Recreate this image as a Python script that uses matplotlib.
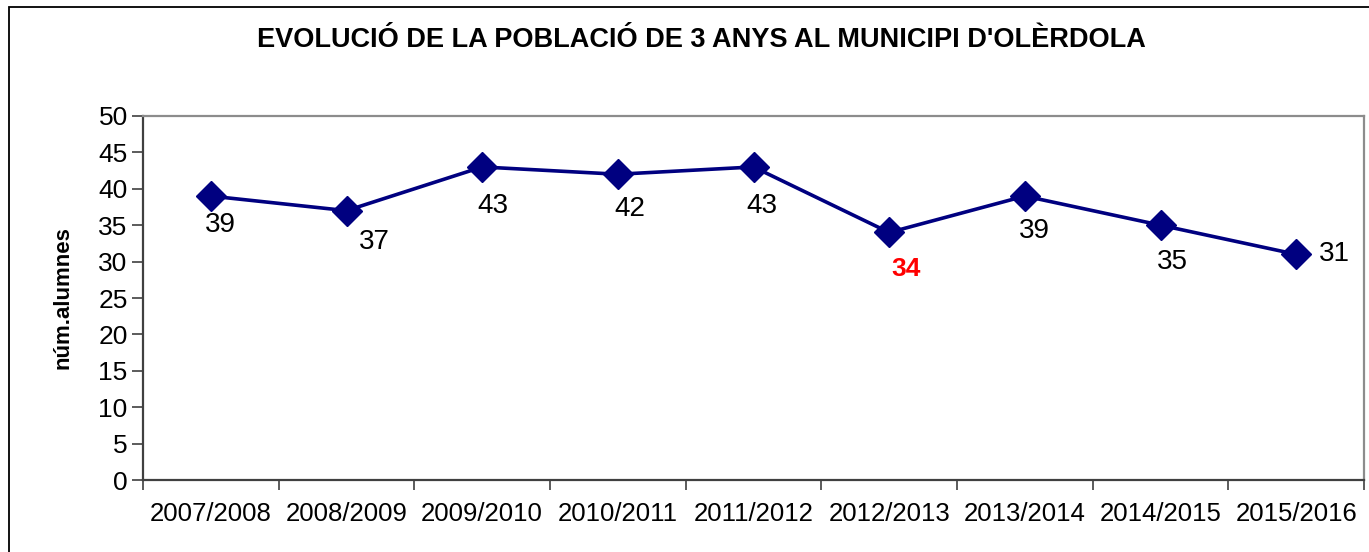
import matplotlib.pyplot as plt
from matplotlib.patches import Rectangle

plt.rcParams['font.family'] = ['Liberation Sans', 'DejaVu Sans']

# Chart data
courses = ["2007/2008", "2008/2009", "2009/2010", "2010/2011", "2011/2012",
           "2012/2013", "2013/2014", "2014/2015", "2015/2016"]
students = [39, 37, 43, 42, 43, 34, 39, 35, 31]
highlight = "2012/2013"

# Label offsets (pixels) relative to each point
labelOffsets = [(10, -29), (28, -31), (11, -39), (12, -35), (8, -39),
                (17, -37), (10, -35), (12, -37), (38, 0)]

fig = plt.figure(figsize=(13.69, 5.52), dpi=100)
ax = fig.add_axes([143 / 1369, 72 / 552, 1221 / 1369, 364 / 552])

# Outer frame of the chart object (cropped at right and bottom)
fig.patches.append(Rectangle((9 / 1369, -0.1), 1.2, 1 - 7 / 552 + 0.1,
                             transform=fig.transFigure, fill=False,
                             edgecolor="black", linewidth=1.3))

x = list(range(len(courses)))
ax.plot(x, students, color="#000080", linewidth=2.6, marker="D",
        markersize=15, markerfacecolor="#000080", markeredgecolor="#000080")

for i, (course, value) in enumerate(zip(courses, students)):
    dx, dy = labelOffsets[i]
    if course == highlight:
        ax.annotate(str(value), (i, value), xytext=(dx, dy), textcoords="offset pixels",
                    ha="center", va="center", fontsize=19, color="#ff0000",
                    fontweight="bold")
    else:
        ax.annotate(str(value), (i, value), xytext=(dx, dy), textcoords="offset pixels",
                    ha="center", va="center", fontsize=20, color="black")

ax.set_xlim(-0.5, len(courses) - 0.5)
ax.set_ylim(0, 50)
ax.set_yticks(range(0, 51, 5))
ax.set_xticks(x)
ax.set_xticklabels(courses)
ax.set_xticks([i - 0.5 for i in range(len(courses) + 1)], minor=True)
ax.tick_params(axis="x", which="major", length=0, pad=16, labelsize=18.5)
ax.tick_params(axis="x", which="minor", length=7, width=1.2, color="#404040")
ax.tick_params(axis="y", length=8, width=1.2, color="#404040", pad=3, labelsize=19)

for side in ["left", "bottom"]:
    ax.spines[side].set_color("#404040")
    ax.spines[side].set_linewidth(1.6)
for side in ["top", "right"]:
    ax.spines[side].set_color("#8c8c8c")
    ax.spines[side].set_linewidth(1.6)

ax.set_ylabel("núm.alumnes", fontsize=16, fontweight="bold", labelpad=18)
fig.text(701 / 1369, 1 - 40 / 552, "EVOLUCIÓ DE LA POBLACIÓ DE 3 ANYS AL MUNICIPI D'OLÈRDOLA",
         ha="center", va="center", fontsize=19.5, fontweight="bold")

fig.savefig("out.png", dpi=100)
